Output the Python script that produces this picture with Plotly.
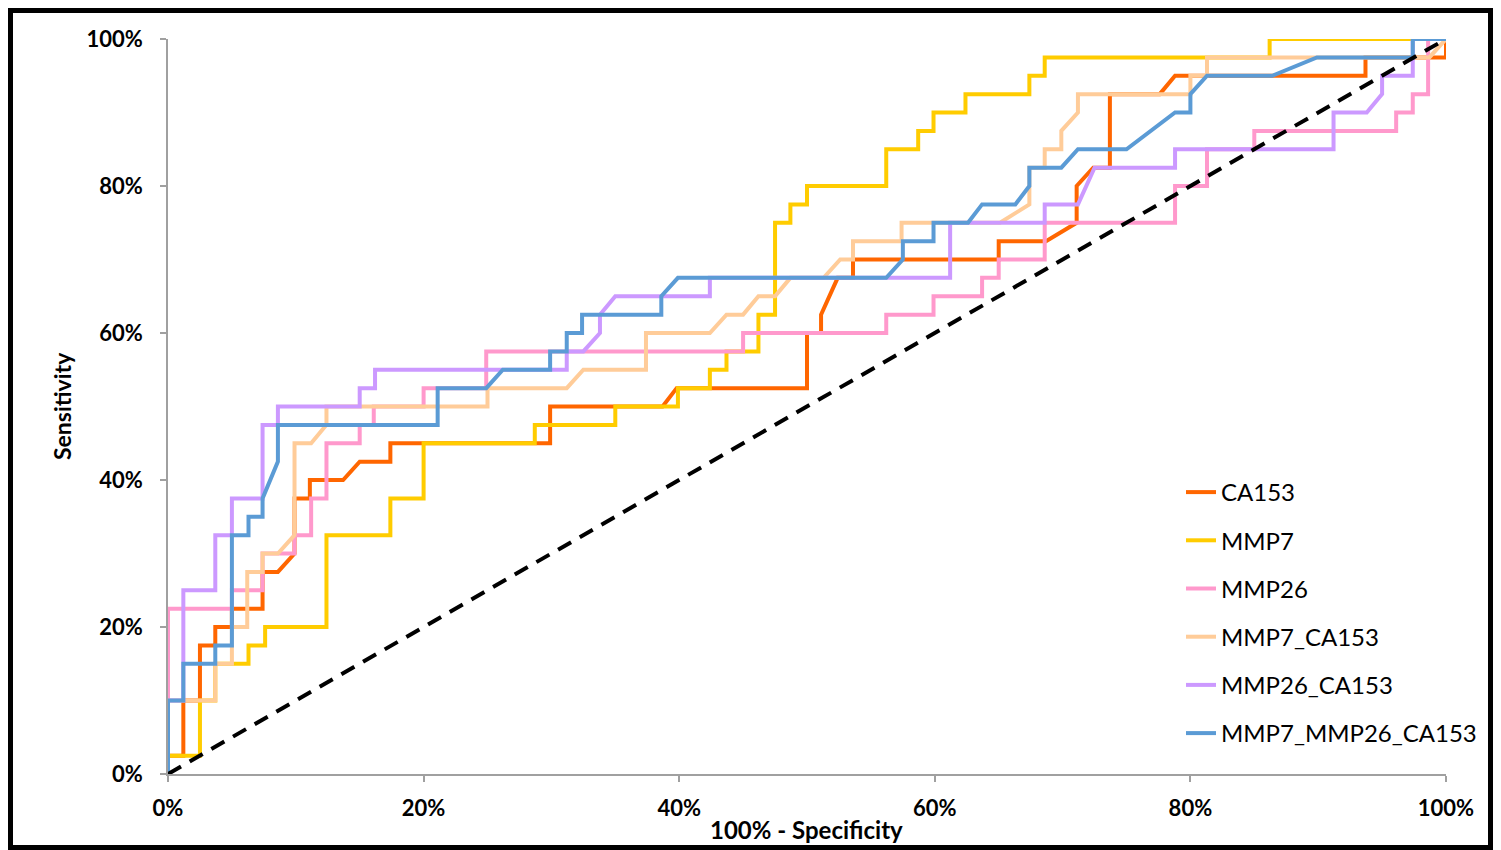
import plotly.graph_objects as go

# ROC curves: x = 100% - Specificity (%), y = Sensitivity (%)
ca153_x = [0, 0, 1.2, 1.2, 2.5, 2.5, 3.7, 3.7, 5, 5, 7.4, 7.4, 8.6, 9.9, 9.9, 11.1, 11.1, 13.7, 15, 17.4, 17.4,
           29.9, 29.9, 38.7, 39.8, 50, 50, 51.1, 51.1, 52.4, 53.6, 53.6, 65, 65, 68.7, 71.1, 71.1, 72.4, 73.7,
           73.7, 77.6, 78.8, 93.7, 93.7, 100, 100]
ca153_y = [0, 2.5, 2.5, 10, 10, 17.5, 17.5, 20, 20, 22.5, 22.5, 27.5, 27.5, 30, 37.5, 37.5, 40, 40, 42.5, 42.5, 45,
           45, 50, 50, 52.5, 52.5, 60, 60, 62.5, 67.5, 67.5, 70, 70, 72.5, 72.5, 75, 80, 82.5, 82.5,
           92.5, 92.5, 95, 95, 97.5, 97.5, 100]

mmp7_x = [0, 0, 2.5, 2.5, 3.7, 3.7, 6.3, 6.3, 7.6, 7.6, 12.4, 12.4, 17.4, 17.4, 20, 20, 28.7, 28.7, 35, 35,
          39.9, 39.9, 42.4, 42.4, 43.7, 43.7, 46.2, 46.2, 47.5, 47.5, 48.7, 48.7, 50, 50, 56.2, 56.2, 58.7,
          58.7, 59.9, 59.9, 62.4, 62.4, 67.4, 67.4, 68.6, 68.6, 86.2, 86.2, 100]
mmp7_y = [0, 2.5, 2.5, 10, 10, 15, 15, 17.5, 17.5, 20, 20, 32.5, 32.5, 37.5, 37.5, 45, 45, 47.5, 47.5, 50,
          50, 52.5, 52.5, 55, 55, 57.5, 57.5, 62.5, 62.5, 75, 75, 77.5, 77.5, 80, 80, 85, 85,
          87.5, 87.5, 90, 90, 92.5, 92.5, 95, 95, 97.5, 97.5, 100, 100]

mmp26_x = [0, 0, 5, 5, 7.4, 7.4, 9.9, 9.9, 11.2, 11.2, 12.4, 12.4, 15, 15, 16.1, 16.1, 20, 20, 24.9, 24.9,
           45, 45, 56.2, 56.2, 59.9, 59.9, 63.7, 63.7, 65, 65, 68.6, 68.6, 78.8, 78.8, 81.3, 81.3, 85, 85,
           96.1, 96.1, 97.4, 97.4, 98.6, 98.6, 100]
mmp26_y = [0, 22.5, 22.5, 25, 25, 30, 30, 32.5, 32.5, 37.5, 37.5, 45, 45, 47.5, 47.5, 50, 50, 52.5, 52.5, 57.5,
           57.5, 60, 60, 62.5, 62.5, 65, 65, 67.5, 67.5, 70, 70, 75, 75, 80, 80, 85, 85, 87.5,
           87.5, 90, 90, 92.5, 92.5, 100, 100]

mmp7_ca153_x = [0, 0, 3.7, 3.7, 5, 5, 6.2, 6.2, 7.4, 7.4, 8.6, 9.9, 9.9, 11.2, 12.4, 12.4, 25, 25, 31.2, 32.5,
                37.4, 37.4, 42.4, 43.7, 45, 46.2, 47.5, 48.7, 51.3, 52.6, 53.6, 53.6, 57.4, 57.4, 65.1, 67.4,
                67.4, 68.6, 68.6, 69.9, 69.9, 71.2, 71.2, 80, 80, 81.3, 81.3, 98.7, 100]
mmp7_ca153_y = [0, 10, 10, 15, 15, 20, 20, 27.5, 27.5, 30, 30, 32.5, 45, 45, 47.5, 50, 50, 52.5, 52.5, 55,
                55, 60, 60, 62.5, 62.5, 65, 65, 67.5, 67.5, 70, 70, 72.5, 72.5, 75, 75, 77.5,
                82.5, 82.5, 85, 85, 87.5, 90, 92.5, 92.5, 95, 95, 97.5, 97.5, 100]

mmp26_ca153_x = [0, 0, 1.2, 1.2, 3.7, 3.7, 5, 5, 7.4, 7.4, 8.6, 8.6, 15, 15, 16.2, 16.2, 31.2, 31.2, 32.5, 33.8,
                 33.8, 35, 42.4, 42.4, 61.2, 61.2, 68.6, 68.6, 71.2, 72.5, 78.8, 78.8, 91.2, 91.2, 93.8, 95,
                 95, 97.4, 97.4, 100]
mmp26_ca153_y = [0, 10, 10, 25, 25, 32.5, 32.5, 37.5, 37.5, 47.5, 47.5, 50, 50, 52.5, 52.5, 55, 55, 57.5, 57.5, 60,
                 62.5, 65, 65, 67.5, 67.5, 75, 75, 77.5, 77.5, 82.5, 82.5, 85, 85, 90, 90, 92.5,
                 95, 95, 100, 100]

mmp7_mmp26_ca153_x = [0, 0, 1.2, 1.2, 3.7, 3.7, 5, 5, 6.3, 6.3, 7.4, 7.4, 8.6, 8.6, 21.1, 21.1, 24.9, 26.2,
                      29.9, 29.9, 31.2, 31.2, 32.4, 32.4, 38.6, 38.6, 39.9, 56.2, 57.5, 57.5, 59.9, 59.9, 62.6,
                      63.7, 66.3, 67.4, 67.4, 69.9, 71.2, 75, 78.8, 80, 80, 81.3, 86.4, 89.9, 97.4, 97.4, 100]
mmp7_mmp26_ca153_y = [0, 10, 10, 15, 15, 17.5, 17.5, 32.5, 32.5, 35, 35, 37.5, 42.5, 47.5, 47.5, 52.5, 52.5, 55,
                      55, 57.5, 57.5, 60, 60, 62.5, 62.5, 65, 67.5, 67.5, 70, 72.5, 72.5, 75, 75,
                      77.5, 77.5, 80, 82.5, 82.5, 85, 85, 90, 90, 92.5, 95, 95, 97.5, 97.5, 100, 100]

ref_x = [0, 100]
ref_y = [0, 100]

series = [
    ("CA153", ca153_x, ca153_y, "#FF6600"),
    ("MMP7", mmp7_x, mmp7_y, "#FFCC00"),
    ("MMP26", mmp26_x, mmp26_y, "#FF99CC"),
    ("MMP7_CA153", mmp7_ca153_x, mmp7_ca153_y, "#FFCC99"),
    ("MMP26_CA153", mmp26_ca153_x, mmp26_ca153_y, "#CC99FF"),
    ("MMP7_MMP26_CA153", mmp7_mmp26_ca153_x, mmp7_mmp26_ca153_y, "#5B9BD5"),
]

fig = go.Figure()
for i, (name, xs, ys, col) in enumerate(series):
    fig.add_trace(go.Scatter(
        x=[v / 100 for v in xs], y=[v / 100 for v in ys], mode="lines", name=name,
        legendgroup=f"g{i}",
        line=dict(color=col, width=4), hoverinfo="skip"))

fig.add_trace(go.Scatter(
    x=[v / 100 for v in ref_x], y=[v / 100 for v in ref_y], mode="lines",
    line=dict(color="black", width=4, dash="15px,10px"), showlegend=False, hoverinfo="skip"))

# the page body has an 8px margin: work in page pixels, shift into figure pixels
OFF = 8
W, H = 1501 - OFF, 850 - OFF
L, R, T, B = 168 - OFF, 1446 - OFF, 39 - OFF, 774 - OFF
pw, ph = R - L, B - T


def px_x(p):
    return (p - OFF - L) / pw


def px_y(p):
    return (B - (p - OFF)) / ph


tick_vals = [0, 0.2, 0.4, 0.6, 0.8, 1.0]
tick_text = ["0%", "20%", "40%", "60%", "80%", "100%"]

axis_common = dict(
    range=[0, 1], tickvals=tick_vals, ticktext=tick_text, automargin=False,
    showgrid=False, zeroline=False, showline=True, linecolor="#A0A0A0", linewidth=1.5,
    ticks="outside", ticklen=6, tickcolor="#A0A0A0", tickwidth=1.5,
    tickfont=dict(family="Lato", size=22, color="black", weight="bold"),
    fixedrange=True,
)

fig.update_layout(
    width=W, height=H,
    margin=dict(l=L, r=W - R, t=T, b=H - B, autoexpand=False),
    paper_bgcolor="white", plot_bgcolor="white",
    xaxis=dict(**axis_common, ticklabelstandoff=8),
    yaxis=dict(**axis_common, ticklabelstandoff=13),
    legend=dict(
        x=px_x(1181), y=px_y(470), xanchor="left", yanchor="top",
        bgcolor="rgba(0,0,0,0)", traceorder="grouped", tracegroupgap=14,
        font=dict(family="Lato", size=24, color="black"),
    ),
    showlegend=True,
    annotations=[
        dict(text="<b>100% - Specificity</b>", xref="paper", yref="paper",
             x=px_x(806), y=px_y(829), xanchor="center", yanchor="middle", showarrow=False,
             font=dict(family="Lato", size=24, color="black")),
        dict(text="<b>Sensitivity</b>", xref="paper", yref="paper", textangle=-90,
             x=px_x(62), y=px_y(406), xanchor="center", yanchor="middle", showarrow=False,
             font=dict(family="Lato", size=23, color="black")),
    ],
    shapes=[dict(type="rect", xref="paper", yref="paper",
                 x0=px_x(10.5), x1=px_x(1490.5), y0=px_y(847.5), y1=px_y(10.5),
                 line=dict(color="black", width=5), fillcolor="rgba(0,0,0,0)", layer="above")],
)

fig.write_html("out.html")
